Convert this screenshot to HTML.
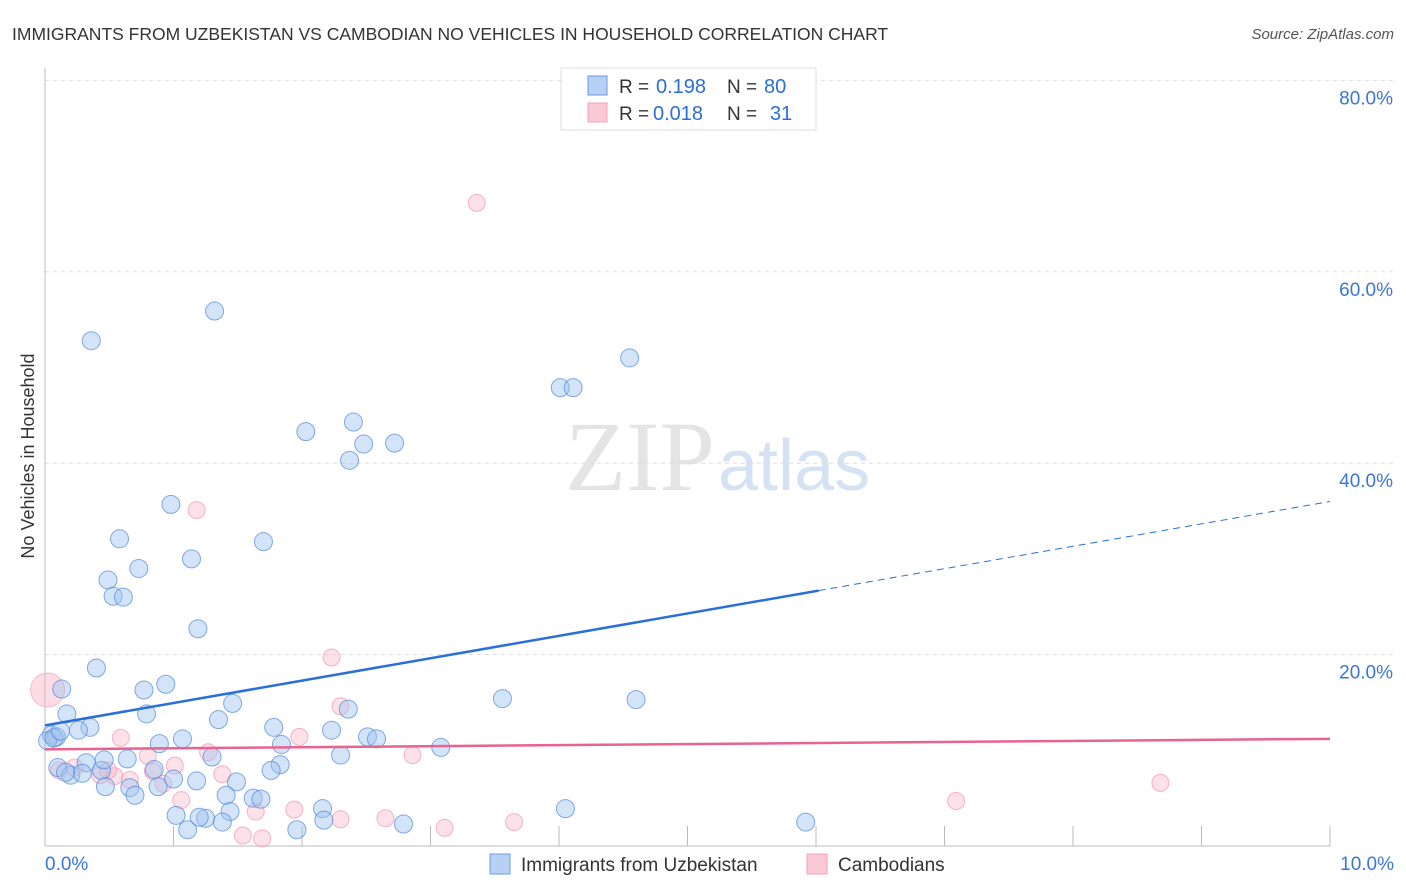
<!DOCTYPE html>
<html><head><meta charset="utf-8"><style>
body{margin:0;background:#fff;font-family:"Liberation Sans",sans-serif}
svg{display:block}
</style></head><body>
<svg id="chart" width="1406" height="892">
<text x="12" y="40" font-size="17.5" fill="#333">IMMIGRANTS FROM UZBEKISTAN VS CAMBODIAN NO VEHICLES IN HOUSEHOLD CORRELATION CHART</text>
<text x="1394" y="39" font-size="15" fill="#555" font-style="italic" text-anchor="end">Source: ZipAtlas.com</text>
<text x="715" y="490" font-size="100" fill="#e4e4e4" text-anchor="end" font-family="Liberation Serif">ZIP</text>
<text x="718" y="490" font-size="72" fill="#d4e2f4">atlas</text>
<g id="grid"></g>
<g id="axes"></g>
<g id="pts"></g>
<g id="trends"></g>
<text transform="translate(34,456) rotate(-90)" font-size="18" fill="#333" text-anchor="middle">No Vehicles in Household</text>
<g>
<rect x="561" y="68" width="255" height="62" fill="#fff" stroke="#ddd"/>
<rect x="588" y="76" width="19" height="19" fill="#b8d0f4" stroke="#6a9ae0"/>
<rect x="588" y="103" width="19" height="19" fill="#fbc8d6" stroke="#f0a0b8"/>
<text x="619" y="93" font-size="19" fill="#333">R =</text>
<text x="656" y="93" font-size="20" fill="#2b6fd6">0.198</text>
<text x="727" y="93" font-size="19" fill="#333">N =</text>
<text x="764" y="93" font-size="20" fill="#2b6fd6">80</text>
<text x="619" y="120" font-size="19" fill="#333">R =</text>
<text x="653" y="120" font-size="20" fill="#2b6fd6">0.018</text>
<text x="727" y="120" font-size="19" fill="#333">N =</text>
<text x="770" y="120" font-size="20" fill="#2b6fd6">31</text>
</g>
<g>
<rect x="490" y="854" width="20" height="20" fill="#b8d0f4" stroke="#6a9ae0"/>
<text x="521" y="871" font-size="19" fill="#333">Immigrants from Uzbekistan</text>
<rect x="807" y="854" width="20" height="20" fill="#fbc8d6" stroke="#f0a0b8"/>
<text x="838" y="871" font-size="19" fill="#333">Cambodians</text>
</g>
</svg>
<script>
const xTicks=[0,1,2,3,4,5,6,7,8,9,10];
const yTicks=[20,40,60,80];
const yTickLabels=["20.0%","40.0%","60.0%","80.0%"];
const xEndLabels=["0.0%","10.0%"];
const blueX=[0.36,1.32,4.55,4.01,4.11,2.03,2.40,2.48,2.72,2.37,0.98,0.58,1.70,1.14,0.73,0.49,0.53,0.61,1.19,0.40,0.13,0.77,0.94,3.56,4.60,1.46,0.17,0.79,2.36,1.35,0.35,0.26,1.78,2.23,0.05,0.09,2.51,2.58,0.89,1.07,1.84,3.08,1.30,0.64,2.30,0.10,0.32,0.44,0.20,0.29,0.85,1.83,1.76,1.00,1.18,1.49,0.47,0.66,0.70,0.88,1.41,1.62,1.68,2.16,4.05,1.44,1.02,1.25,2.17,1.38,2.79,5.92,1.11,1.96,0.02,0.46,0.16,0.07,0.12,1.20];
const blueY=[52.8,55.9,51.0,47.9,47.9,43.3,44.3,42.0,42.1,40.3,35.7,32.1,31.8,30.0,29.0,27.8,26.1,26.0,22.7,18.6,16.4,16.3,16.9,15.4,15.3,14.9,13.8,13.8,14.3,13.2,12.4,12.1,12.4,12.1,11.6,11.4,11.4,11.2,10.7,11.2,10.6,10.3,9.3,9.1,9.5,8.2,8.7,7.9,7.4,7.6,8.0,8.5,7.9,7.0,6.8,6.7,6.2,6.1,5.3,6.2,5.3,5.0,4.9,3.9,3.9,3.6,3.2,2.9,2.7,2.5,2.3,2.5,1.7,1.7,11.0,9.0,7.7,11.3,12.0,3.0];
const pinkX=[3.36,1.18,2.23,2.30,1.98,0.59,1.27,2.86,0.23,0.11,0.43,0.54,0.49,0.84,1.01,0.66,0.92,1.38,1.06,0.80,1.94,1.64,2.30,2.65,3.11,3.65,1.54,1.69,7.09,8.68];
const pinkY=[67.2,35.1,19.7,14.6,11.4,11.3,9.8,9.5,8.2,7.9,7.4,7.3,7.9,7.8,8.4,6.9,6.5,7.5,4.8,9.4,3.8,3.6,2.8,2.9,1.9,2.5,1.1,0.8,4.7,6.6];
const bigPink=[0.02,16.3];
const blueTrend=[12.6,36.0], blueSolidEnd=6.02;
const pinkTrend=[10.1,11.2];
const NS="http://www.w3.org/2000/svg";
const X=v=>45+v*128.5, Y=v=>846-v*9.57;
function mk(t,a,p){const e=document.createElementNS(NS,t);for(const k in a)e.setAttribute(k,a[k]);p.appendChild(e);return e;}
const grid=document.getElementById('grid'),axes=document.getElementById('axes'),pts=document.getElementById('pts'),tr=document.getElementById('trends');
yTicks.forEach((t,i)=>{
 const l=mk('line',{x1:45,x2:1394,y1:Y(t),y2:Y(t),stroke:'#ddd','stroke-dasharray':'4,4'},grid);
 
 
 const tx=mk('text',{x:1393,y:Y(t)+24,'font-size':19,fill:'#3a76d6','text-anchor':'end'},grid);
 tx.textContent=yTickLabels[i];
 
 
});
const ya=mk('line',{x1:45,x2:45,y1:68,y2:846,stroke:'#bbb'},axes);


const xa=mk('line',{x1:45,x2:1330,y1:846,y2:846,stroke:'#bbb'},axes);


xTicks.forEach(t=>{
 const l=mk('line',{x1:X(t),x2:X(t),y1:826,y2:846,stroke:'#bbb'},axes);
 
 
});
[[0,xEndLabels[0],'start',45],[10,xEndLabels[1],'end',1394]].forEach(a=>{
 const tx=mk('text',{x:a[3],y:870,'font-size':19,fill:'#3a76d6','text-anchor':a[2]},axes);
 tx.textContent=a[1];
 
 
});
const bp=mk('circle',{cx:X(bigPink[0]),cy:Y(bigPink[1]),r:17,fill:'rgba(248,180,200,0.45)',stroke:'rgba(240,150,180,0.6)'},pts);


pinkX.forEach((x,i)=>{
 const c=mk('circle',{cx:X(x),cy:Y(pinkY[i]),r:8.5,fill:'rgba(248,180,200,0.4)',stroke:'rgba(240,150,180,0.7)','stroke-width':1},pts);
 
 
});
blueX.forEach((x,i)=>{
 const c=mk('circle',{cx:X(x),cy:Y(blueY[i]),r:9,fill:'rgba(160,195,240,0.45)',stroke:'rgba(80,135,215,0.7)','stroke-width':1},pts);
 
 
});
const bAt=x=>blueTrend[0]+(blueTrend[1]-blueTrend[0])*x/10;
const b1=mk('line',{x1:X(0),y1:Y(bAt(0)),x2:X(blueSolidEnd),y2:Y(bAt(blueSolidEnd)),stroke:'#2a6fd8','stroke-width':2.5},tr);


const b2=mk('line',{x1:X(blueSolidEnd),y1:Y(bAt(blueSolidEnd)),x2:X(10),y2:Y(bAt(10)),stroke:'#2a6fd8','stroke-width':1,'stroke-dasharray':'7,5'},tr);


const p1=mk('line',{x1:X(0),y1:Y(pinkTrend[0]),x2:X(10),y2:Y(pinkTrend[1]),stroke:'#e8638e','stroke-width':2.5},tr);


</script>
</body></html>
